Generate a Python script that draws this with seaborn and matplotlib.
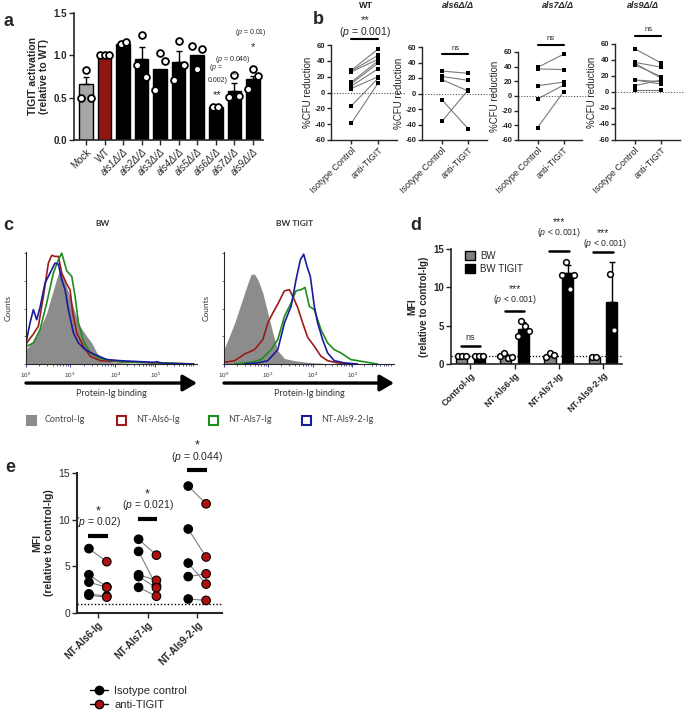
import numpy as np
import pandas as pd
import matplotlib
matplotlib.use("Agg")
import matplotlib.pyplot as plt
import seaborn as sns
from matplotlib.patches import Rectangle, Patch
from matplotlib.lines import Line2D

# ---------------- DATA ----------------
# panel a
a_groups = ["Mock", "WT", "als1Δ/Δ", "als2Δ/Δ", "als3Δ/Δ", "als4Δ/Δ",
            "als5Δ/Δ", "als6Δ/Δ", "als7Δ/Δ", "als9Δ/Δ"]
a_means = [0.66, 1.00, 1.13, 0.95, 0.84, 0.92, 1.00, 0.39, 0.58, 0.72]
a_err = [0.08, 0.0, 0.0, 0.15, 0.0, 0.13, 0.0, 0.0, 0.09, 0.04]
a_points = [[0.49, 0.83, 0.49], [1.0, 1.0, 1.0], [1.13, 1.15], [0.88, 1.24, 0.74],
            [0.59, 1.02, 0.93], [0.71, 1.17, 0.88], [1.11, 0.84, 1.07],
            [0.39, 0.39], [0.51, 0.77, 0.52], [0.60, 0.84, 0.75]]

# panel b
b_titles = ["WT", "als6Δ/Δ", "als7Δ/Δ", "als9Δ/Δ"]
b_conditions = ["Isotype Control", "anti-TIGIT"]
b_iso = [[-39, -17, 5, 8, 11, 13, 26, 27, 28],
         [29, 22, 18, -8, -36],
         [39, 37, 14, -4, -43],
         [54, 37, 36, 34, 15, 15, 8, 2]]
b_anti = [[12, 18, 20, 30, 37, 40, 42, 47, 55],
          [26, 17, 3, -46, 5],
          [57, 36, 19, 15, 6],
          [36, 31, 17, 19, 10, 13, 15, 2]]

# panel c (histograms; x = acquisition channel 0-1024, y = % of max)
c_tick_labels = ["$10^0$", "$10^3$", "$10^4$", "$10^5$"]
c_tick_channels = [0, 264, 534, 774]
bw_grey_x = [0, 64, 124, 164, 194, 204, 234, 264, 294, 324, 364, 394, 424, 464, 524, 664, 964, 1024]
bw_grey_y = [13, 25, 46, 67, 82, 84, 73, 61, 46, 34, 25, 19, 10, 4, 1.5, 0.5, 0, 0]
bw_red_x = [0, 4, 44, 74, 104, 134, 154, 174, 194, 214, 244, 264, 280, 304, 344, 384, 444, 564, 764, 1004]
bw_red_y = [15, 19, 27, 34, 61, 91, 98, 97, 97, 82, 72, 67, 46, 28, 16, 7, 3, 2, 1, 0]
bw_green_x = [0, 4, 44, 84, 124, 164, 194, 214, 244, 274, 294, 314, 344, 384, 444, 564, 804, 1004]
bw_green_y = [13, 16, 19, 31, 55, 82, 94, 100, 84, 79, 61, 37, 21, 10, 5, 2, 1, 0]
bw_blue_x = [0, 4, 24, 44, 64, 84, 114, 144, 174, 194, 214, 234, 254, 284, 314, 354, 404, 484, 564, 764, 784, 824, 1004]
bw_blue_y = [18, 22, 37, 49, 40, 51, 73, 82, 91, 90, 76, 67, 49, 28, 19, 13, 9, 4, 3, 1.5, 2, 0.5, 0]
tg_grey_x = [0, 24, 64, 104, 144, 164, 184, 204, 234, 264, 294, 324, 364, 424, 504, 604, 764, 1024]
tg_grey_y = [13, 22, 37, 55, 73, 81, 81, 76, 64, 46, 28, 12, 5, 3, 1.5, 0.5, 0, 0]
tg_red_x = [0, 64, 124, 184, 234, 264, 294, 324, 364, 394, 414, 444, 474, 504, 544, 584, 624, 684, 764]
tg_red_y = [1.5, 3, 9, 13, 22, 37, 46, 54, 66, 67, 61, 51, 37, 24, 16, 7, 3, 1, 0]
tg_green_x = [64, 164, 224, 284, 324, 364, 404, 434, 464, 488, 514, 544, 584, 624, 664, 704, 764, 844, 924]
tg_green_y = [0, 1.5, 4, 13, 22, 43, 55, 66, 67, 69, 52, 49, 31, 19, 13, 10, 4, 2, 0]
tg_blue_x = [124, 204, 264, 324, 364, 404, 434, 460, 480, 500, 520, 544, 564, 594, 624, 664, 724, 804]
tg_blue_y = [0, 1, 3, 13, 37, 52, 76, 94, 99, 88, 79, 52, 37, 22, 10, 3, 1, 0]
c_legend = ["Control-Ig", "NT-Als6-Ig", "NT-Als7-Ig", "NT-Als9-2-Ig"]

# panel d
d_groups = ["Control-Ig", "NT-Als6-Ig", "NT-Als7-Ig", "NT-Als9-2-Ig"]
d_cells = ["BW", "BW TIGIT"]
d_bw_mean = [1.0, 1.0, 1.1, 0.9]
d_tigit_mean = [1.0, 4.6, 11.9, 8.05]
d_bw_err = [0.05, 0.25, 0.25, 0.05]
d_tigit_err = [0.05, 0.9, 1.0, 5.25]
d_bw_pts = [[1.0, 1.0, 1.0], [1.1, 1.4, 0.8, 0.9], [0.9, 1.4, 1.2], [0.87, 0.95]]
d_tigit_pts = [[1.0, 1.0, 1.0], [3.6, 5.65, 5.0, 4.35], [11.65, 13.3, 9.8, 11.65], [11.7, 4.4]]

# panel e
e_groups = ["NT-Als6-Ig", "NT-Als7-Ig", "NT-Als9-2-Ig"]
e_treat = ["Isotype control", "anti-TIGIT"]
e_iso = [[6.9, 4.1, 3.3, 2.05, 1.9], [7.9, 6.6, 4.1, 3.9, 2.75], [13.6, 9.0, 5.35, 3.9, 1.5]]
e_anti = [[5.5, 2.8, 2.75, 1.8, 1.7], [6.2, 2.9, 3.5, 2.7, 1.8], [11.7, 6.0, 3.1, 4.2, 1.35]]
e_pvals = ["0.02", "0.021", "0.044"]

# ---------------- STYLE ----------------
sns.set_theme(style="ticks")
plt.rcParams["font.family"] = ["Liberation Sans", "DejaVu Sans"]
plt.rcParams["mathtext.fontset"] = "custom"
plt.rcParams["mathtext.rm"] = "Liberation Sans"
plt.rcParams["mathtext.it"] = "Liberation Sans:italic"
plt.rcParams["axes.linewidth"] = 1.2

W, H = 685, 714
fig = plt.figure(figsize=(W / 100, H / 100), dpi=100)


def ax_px(l, t, r, b):
    return fig.add_axes([l / W, 1 - b / H, (r - l) / W, (b - t) / H])


def style_ax(ax, lw=1.2):
    sns.despine(ax=ax)
    for s in ["left", "bottom"]:
        ax.spines[s].set_linewidth(lw)
    ax.tick_params(width=1, length=3.5, pad=1.5)


def spread(groups, points, center_offset=0.0, dx=0.2):
    """Place each group's points side by side around the category position."""
    rows = []
    for gi, (g, pts) in enumerate(zip(groups, points)):
        n = len(pts)
        for j, v in enumerate(pts):
            rows.append((g, gi + center_offset + (j - (n - 1) / 2) * dx, v))
    return pd.DataFrame(rows, columns=["group", "x", "val"])


PTXT = r"($\it{p}$ = %s)"

# ---------------- PANEL A ----------------
axa = ax_px(74, 12.7, 263, 140)
a_pal = {g: "black" for g in a_groups}
a_pal["Mock"] = "#A6A6A6"
a_pal["WT"] = "#A50000"
dfa = pd.DataFrame({"group": a_groups, "mean": a_means})
sns.barplot(data=dfa, x="group", y="mean", hue="group", order=a_groups, palette=a_pal,
            width=0.73, edgecolor="black", linewidth=1, legend=False, ax=axa)
for i, (m, e) in enumerate(zip(a_means, a_err)):
    if e > 0:
        axa.errorbar(i, m, yerr=[[0], [e]], fmt="none", ecolor="black", elinewidth=1,
                     capsize=2.5, capthick=1, zorder=2)
dfap = spread(a_groups, a_points, dx=0.26)
sns.scatterplot(data=dfap, x="x", y="val", color="white", edgecolor="black",
                linewidth=1.3, s=24, legend=False, ax=axa, zorder=3)
axa.set_xlim(-0.65, 9.55)
axa.set_ylim(0, 1.5)
axa.set_yticks([0, 0.5, 1.0, 1.5])
axa.set_yticklabels(["0.0", "0.5", "1.0", "1.5"], fontsize=7, fontweight="bold")
axa.set_xticks(range(len(a_groups)))
axa.set_xticklabels(a_groups, rotation=45, ha="right", rotation_mode="anchor", fontsize=7)
for lab in axa.get_xticklabels()[2:]:
    lab.set_fontstyle("italic")
axa.set_xlabel("")
axa.set_ylabel("TIGIT activation\n(relative to WT)", fontsize=7.5, fontweight="bold", labelpad=3)
style_ax(axa)
axa.text(7.0, 0.86, r"($\it{p}$ =", ha="center", va="center", fontsize=5)
axa.text(7.1, 0.70, "0.002)", ha="center", va="center", fontsize=5)
axa.text(7.05, 0.53, "**", ha="center", va="center", fontsize=8)
axa.text(7.9, 0.945, PTXT % "0.046", ha="center", va="center", fontsize=5)
axa.text(8.0, 0.77, "*", ha="center", va="center", fontsize=8)
axa.text(8.9, 1.27, PTXT % "0.01", ha="center", va="center", fontsize=5, clip_on=False)
axa.text(9.0, 1.09, "*", ha="center", va="center", fontsize=8)

# ---------------- PANEL B ----------------
b_boxes = [(331, 45, 397, 140), (422, 47, 487, 140), (518, 52, 582, 140), (615, 44, 680, 140)]
b_title_x = [366, 458, 558, 643]
b_sig_y = [(67.6, 77, 92), (51, 58, None), (69.5, 78, None), (70, 78, None)]
for k in range(4):
    ax = ax_px(*b_boxes[k])
    rows = []
    for p, (u, v) in enumerate(zip(b_iso[k], b_anti[k])):
        rows.append((p, 0, u))
        rows.append((p, 1, v))
    dfb = pd.DataFrame(rows, columns=["pair", "cond", "val"])
    sns.lineplot(data=dfb, x="cond", y="val", units="pair", estimator=None,
                 color="#7a7a7a", lw=0.8, legend=False, ax=ax)
    sns.scatterplot(data=dfb, x="cond", y="val", marker="s", color="black", s=7,
                    linewidth=0, legend=False, ax=ax, zorder=3)
    ax.axhline(0, xmin=0, xmax=1.12, ls=(0, (1, 1.5)), color="#555555", lw=0.8, clip_on=False)
    ax.set_xlim(-0.75, 1.7)
    ax.set_ylim(-60, 60)
    ax.set_yticks(range(-60, 61, 20))
    ax.set_yticklabels([str(v) for v in range(-60, 61, 20)], fontsize=5.5, fontweight="bold")
    ax.set_xticks([0, 1])
    ax.set_xticklabels(b_conditions, rotation=45, ha="right", rotation_mode="anchor", fontsize=6.5)
    ax.set_xlabel("")
    ax.set_ylabel("%CFU reduction", fontsize=7, labelpad=1)
    style_ax(ax, lw=1.0)
    ax.tick_params(length=3, pad=1)
    by, ty, sy = b_sig_y[k]
    ax.plot([0, 1], [by, by], color="black", lw=1.5, clip_on=False)
    if k == 0:
        ax.text(0.5, ty, PTXT % "0.001", ha="center", va="center", fontsize=7.5, clip_on=False)
        ax.text(0.5, sy, "**", ha="center", va="center", fontsize=8, clip_on=False)
    else:
        ax.text(0.5, ty, "ns", ha="center", va="center", fontsize=5.5, clip_on=False)
    fig.text(b_title_x[k] / W, 1 - 5 / H, b_titles[k], ha="center", va="center",
             fontsize=6.5, fontweight="bold", fontstyle="normal" if k == 0 else "italic")

# ---------------- PANEL C ----------------
c_red, c_green, c_blue, c_grey = "#9B1B1B", "#1E8C1E", "#1A1A9C", "#8C8C8C"
c_sets = [
    ((26, 252, 197, 364), "BW", 103,
     (bw_grey_x, bw_grey_y), [(bw_red_x, bw_red_y, c_red), (bw_green_x, bw_green_y, c_green),
                              (bw_blue_x, bw_blue_y, c_blue)]),
    ((224, 252, 394, 364), "BW TIGIT", 295,
     (tg_grey_x, tg_grey_y), [(tg_red_x, tg_red_y, c_red), (tg_green_x, tg_green_y, c_green),
                              (tg_blue_x, tg_blue_y, c_blue)]),
]
minor = []
for a0, a1 in zip(c_tick_channels[:-1] + [774], c_tick_channels[1:] + [1014]):
    for m in range(2, 10):
        minor.append(a0 + np.log10(m) * (a1 - a0))
for box, title, tx, grey, lines in c_sets:
    ax = ax_px(*box)
    ax.fill_between(grey[0], grey[1], color=c_grey, lw=0, zorder=1)
    for xs, ys, col in lines:
        sns.lineplot(x=xs, y=ys, color=col, lw=1.2, ax=ax, zorder=2)
    ax.set_xlim(0, 1024)
    ax.set_ylim(0, 101)
    ax.set_xticks(c_tick_channels)
    ax.set_xticklabels(c_tick_labels, fontsize=4.5, color="#333333")
    ax.set_xticks(minor, minor=True)
    ax.set_yticks([0, 25, 50, 75, 100])
    ax.set_yticklabels([])
    sns.despine(ax=ax)
    ax.spines["left"].set_linewidth(0.8)
    ax.spines["bottom"].set_linewidth(0.8)
    ax.tick_params(axis="y", length=1.5, width=0.6, color="#555555")
    ax.tick_params(axis="x", which="major", length=2.5, width=0.6, pad=2, color="#1A1A9C")
    ax.tick_params(axis="x", which="minor", length=1.5, width=0.5, color="#1A1A9C")
    ax.set_ylabel("Counts", fontsize=6, color="#333333", labelpad=5,
                  fontfamily=["Lato", "DejaVu Sans"])
    ax.annotate("", xy=(1.0, -0.17), xytext=(0, -0.17), xycoords="axes fraction",
                textcoords="axes fraction", annotation_clip=False,
                arrowprops=dict(arrowstyle="-|>,head_length=0.6,head_width=0.35",
                                lw=2.4, color="black", shrinkA=0, shrinkB=0, mutation_scale=14))
    ax.text(0.5, -0.265, "Protein-Ig binding", transform=ax.transAxes, ha="center", va="center",
            fontsize=6.5, color="#333333", fontfamily=["Lato", "DejaVu Sans"])
    fig.text(tx / W, 1 - 224 / H, title, ha="center", va="center", fontsize=6,
             fontweight="bold", color="#333333", fontfamily=["Lato", "DejaVu Sans"])

c_leg_sq = [27, 117, 209, 302]
c_leg_tx = [45, 136, 228, 321]
c_leg_style = [(c_grey, c_grey), ("white", c_red), ("white", c_green), ("white", c_blue)]
for sx, txx, (fc, ec), lab in zip(c_leg_sq, c_leg_tx, c_leg_style, c_legend):
    fig.add_artist(Rectangle((sx / W, 1 - 424.5 / H), 9 / W, 9 / H, transform=fig.transFigure,
                             facecolor=fc, edgecolor=ec, lw=1.5))
    fig.text(txx / W, 1 - 420 / H, lab, ha="left", va="center", fontsize=6.5, color="#444444",
             fontfamily=["Lato", "DejaVu Sans"])

# ---------------- PANEL D ----------------
axd = ax_px(451, 249, 622, 364)
dfd = pd.DataFrame({"group": d_groups * 2,
                    "cell": [d_cells[0]] * 4 + [d_cells[1]] * 4,
                    "mean": d_bw_mean + d_tigit_mean})
d_pal = {"BW": "#808080", "BW TIGIT": "black"}
sns.barplot(data=dfd, x="group", y="mean", hue="cell", order=d_groups, hue_order=d_cells,
            palette=d_pal, width=0.8, gap=0.375, edgecolor="black", linewidth=1,
            legend=False, ax=axd)
xs = np.arange(len(d_groups))
axd.errorbar(xs - 0.2, d_bw_mean, yerr=[np.zeros(4), d_bw_err], fmt="none", ecolor="black",
             elinewidth=1, capsize=2, capthick=1, zorder=2)
axd.errorbar(xs + 0.2, d_tigit_mean, yerr=[np.zeros(4), d_tigit_err], fmt="none", ecolor="black",
             elinewidth=1, capsize=2, capthick=1, zorder=2)
dfd_bw = spread(d_groups, d_bw_pts, center_offset=-0.2, dx=0.09)
dfd_tg = spread(d_groups, d_tigit_pts, center_offset=0.2, dx=0.09)
for dfx in (dfd_bw, dfd_tg):
    sns.scatterplot(data=dfx, x="x", y="val", color="white", edgecolor="black",
                    linewidth=1.1, s=17, legend=False, ax=axd, zorder=3)
axd.axhline(1, ls=(0, (1, 1.5)), color="black", lw=0.9, zorder=1.5)
axd.set_xlim(-0.44, 3.43)
axd.set_ylim(0, 15)
axd.set_yticks([0, 5, 10, 15])
axd.set_yticklabels(["0", "5", "10", "15"], fontsize=7, fontweight="bold")
axd.set_xticks(xs)
axd.set_xticklabels(d_groups, rotation=45, ha="right", rotation_mode="anchor",
                    fontsize=6.5, fontweight="bold")
axd.set_xlabel("")
axd.set_ylabel("MFI\n(relative to control-Ig)", fontsize=7, fontweight="bold", labelpad=3)
style_ax(axd)
d_sig = [(0, 2.3, 3.4, None, "ns"), (1, 6.96, 8.4, 10.0, "***"),
         (2, 14.7, 17.1, 18.7, "***"), (3, 14.65, 15.7, 17.3, "***")]
for gx, by, ty, sy, s in d_sig:
    axd.plot([gx - 0.22, gx + 0.22], [by, by], color="black", lw=1.8, clip_on=False)
    if s == "ns":
        axd.text(gx, ty, "ns", ha="center", va="center", fontsize=6.5, clip_on=False)
    else:
        axd.text(gx + (0.05 if gx == 3 else 0), ty, r"($\it{p}$ < 0.001)", ha="center",
                 va="center", fontsize=6.3, clip_on=False)
        axd.text(gx, sy - 0.25, s, ha="center", va="center", fontsize=7.5, clip_on=False)
axd.legend(handles=[Patch(facecolor="#808080", edgecolor="black", lw=1),
                    Patch(facecolor="black", edgecolor="black", lw=1)],
           labels=d_cells, loc="upper left", bbox_to_anchor=(0.08, 0.985), frameon=False,
           fontsize=7, handlelength=1.1, handleheight=1.1, handletextpad=0.5,
           labelspacing=0.3, borderaxespad=0, borderpad=0)

# ---------------- PANEL E ----------------
axe = ax_px(77, 473, 222, 613)
rows = []
pid = 0
for gi, (iso, anti) in enumerate(zip(e_iso, e_anti)):
    for u, v in zip(iso, anti):
        rows.append((pid, gi - 0.18, e_treat[0], u))
        rows.append((pid, gi + 0.18, e_treat[1], v))
        pid += 1
dfe = pd.DataFrame(rows, columns=["pair", "xpos", "treat", "val"])
sns.lineplot(data=dfe, x="xpos", y="val", units="pair", estimator=None, color="#7f7f7f",
             lw=0.8, legend=False, ax=axe)
e_pal = {e_treat[0]: "black", e_treat[1]: "#B01010"}
sns.scatterplot(data=dfe, x="xpos", y="val", hue="treat", palette=e_pal, s=38,
                edgecolor="black", linewidth=0.8, legend=False, ax=axe, zorder=3)
axe.axhline(1, ls=(0, (1, 1.5)), color="black", lw=1.0, zorder=1)
axe.set_xlim(-0.42, 2.5)
axe.set_ylim(0, 15)
axe.set_yticks([0, 5, 10, 15])
axe.set_yticklabels(["0", "5", "10", "15"], fontsize=7.5)
axe.set_xticks(range(3))
axe.set_xticklabels(e_groups, rotation=45, ha="right", rotation_mode="anchor",
                    fontsize=7, fontweight="bold")
axe.set_xlabel("")
axe.set_ylabel("MFI\n(relative to control-Ig)", fontsize=7.5, fontweight="bold", labelpad=3)
style_ax(axe, lw=1.5)
e_sig = [(0, 8.2, 9.7, 11.2), (1, 10.1, 11.55, 13.05), (2, 15.3, 16.75, 18.25)]
for (gx, by, ty, sy), pv in zip(e_sig, e_pvals):
    axe.plot([gx - 0.2, gx + 0.2], [by, by], color="black", lw=3, clip_on=False,
             solid_capstyle="butt")
    axe.text(gx, ty, PTXT % pv, ha="center", va="center", fontsize=7.5, clip_on=False)
    axe.text(gx, sy - 0.3, "*", ha="center", va="center", fontsize=9, clip_on=False)
fig.legend(handles=[Line2D([0], [0], color="black", lw=1, marker="o", ms=6,
                           markerfacecolor="black", markeredgecolor="black"),
                    Line2D([0], [0], color="black", lw=1, marker="o", ms=6,
                           markerfacecolor="#B01010", markeredgecolor="black")],
           labels=e_treat, loc="center left", bbox_to_anchor=(90 / W, 1 - 698 / H),
           frameon=False, fontsize=8, handlelength=1.6, handletextpad=0.6,
           labelspacing=0.35, borderpad=0, borderaxespad=0)

# ---------------- PANEL LETTERS ----------------
for lt, x, y in [("a", 3, 21), ("b", 313, 20), ("c", 3, 225), ("d", 410, 225), ("e", 5, 467)]:
    fig.text(x / W, 1 - y / H, lt, ha="left", va="center", fontsize=13, fontweight="bold")

fig.savefig("out.png", dpi=100)
